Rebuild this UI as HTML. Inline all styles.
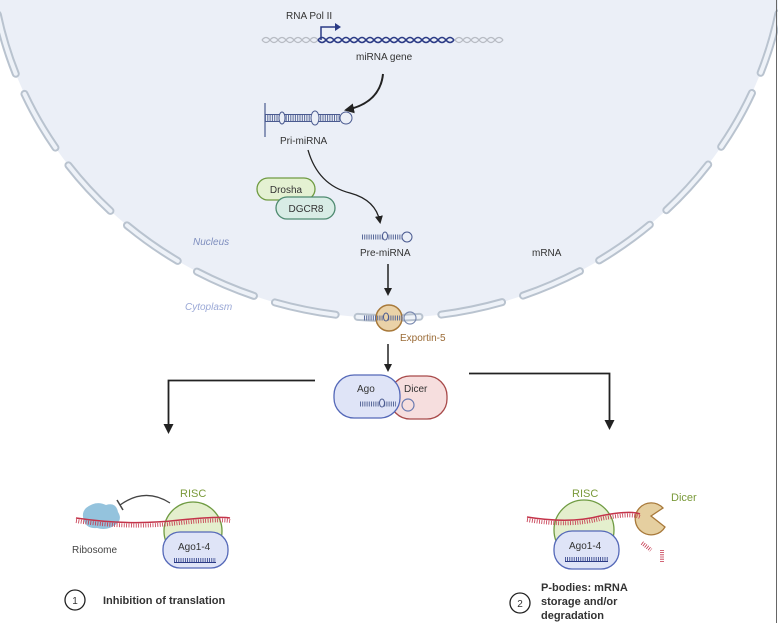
<!DOCTYPE html>
<html><head><meta charset="utf-8"><style>
html,body{margin:0;padding:0;background:#fff;}
svg{display:block;font-family:"Liberation Sans",sans-serif;}
</style></head><body>
<svg width="778" height="623" viewBox="0 0 778 623" xmlns="http://www.w3.org/2000/svg">
<defs>
<marker id="ah" markerWidth="8" markerHeight="8" refX="6" refY="4" orient="auto" markerUnits="userSpaceOnUse"><path d="M0,0 L8,4 L0,8 Z" fill="#222"/></marker>
<marker id="ahb" markerWidth="10" markerHeight="10" refX="8" refY="5" orient="auto" markerUnits="userSpaceOnUse"><path d="M0,0 L10,5 L0,10 Z" fill="#222"/></marker>
</defs>
<rect width="778" height="623" fill="#fff"/>
<!-- nucleus -->
<ellipse cx="388" cy="-60" rx="398" ry="378" fill="#ebeff7"/>
<ellipse cx="388" cy="-60" rx="398" ry="378" fill="none" stroke="#b9c3cf" stroke-width="8" stroke-linecap="round" stroke-dasharray="62 22" stroke-dashoffset="10"/>
<ellipse cx="388" cy="-60" rx="398" ry="378" fill="none" stroke="#eef2f8" stroke-width="4" stroke-linecap="round" stroke-dasharray="62 22" stroke-dashoffset="10"/>
<line x1="776.5" y1="0" x2="776.5" y2="623" stroke="#666" stroke-width="1"/>
<text x="193" y="245" font-size="10" font-style="italic" fill="#7f8fbf">Nucleus</text>
<text x="185" y="310" font-size="10" font-style="italic" fill="#9aa8d6">Cytoplasm</text>
<text x="532" y="256" font-size="10" fill="#333">mRNA</text>

<!-- DNA -->
<g fill="none" stroke-width="1.3">
<path d="M262 40 q4 -5 8 0 t8 0 t8 0 t8 0 t8 0 t8 0 t8 0 t8 0" stroke="#b8bcc4"/>
<path d="M262 40 q4 5 8 0 t8 0 t8 0 t8 0 t8 0 t8 0 t8 0 t8 0" stroke="#b8bcc4"/>
<path d="M455 40 q4 -5 8 0 t8 0 t8 0 t8 0 t8 0 t8 0" stroke="#b8bcc4"/>
<path d="M455 40 q4 5 8 0 t8 0 t8 0 t8 0 t8 0 t8 0" stroke="#b8bcc4"/>
<path d="M318 40 q4 -5 8 0 t8 0 t8 0 t8 0 t8 0 t8 0 t8 0 t8 0 t8 0 t8 0 t8 0 t8 0 t8 0 t8 0 t8 0 t8 0 t8 0" stroke="#2a3a85" stroke-width="1.6"/>
<path d="M318 40 q4 5 8 0 t8 0 t8 0 t8 0 t8 0 t8 0 t8 0 t8 0 t8 0 t8 0 t8 0 t8 0 t8 0 t8 0 t8 0 t8 0 t8 0" stroke="#2a3a85" stroke-width="1.6"/>
</g>
<path d="M321 40 V27 H336" fill="none" stroke="#2a3a85" stroke-width="1.5"/>
<path d="M335 23 L341 27 L335 31 Z" fill="#2a3a85"/>
<text x="286" y="19" font-size="10" fill="#333">RNA Pol II</text>
<text x="356" y="60" font-size="10" fill="#333">miRNA gene</text>
<path d="M383 74 Q380 103 346 110" fill="none" stroke="#222" stroke-width="2" marker-end="url(#ahb)"/>

<!-- Pri-miRNA -->
<line x1="265" y1="103" x2="265" y2="137" stroke="#4a5a90" stroke-width="1.2"/>
<line x1="265" y1="118" x2="340" y2="118" stroke="#5a6a9a" stroke-width="7" stroke-dasharray="1 1.3"/>
<line x1="265" y1="114.5" x2="340" y2="114.5" stroke="#4a5a90" stroke-width="1"/>
<line x1="265" y1="121.5" x2="340" y2="121.5" stroke="#4a5a90" stroke-width="1"/>
<ellipse cx="282" cy="118" rx="3" ry="6" fill="#ebeff7" stroke="#4a5a90"/>
<ellipse cx="315" cy="118" rx="4" ry="7" fill="#ebeff7" stroke="#4a5a90"/>
<circle cx="346" cy="118" r="6" fill="#ebeff7" stroke="#4a5a90"/>
<text x="280" y="144" font-size="10" fill="#333">Pri-miRNA</text>
<path d="M308 150 Q318 185 350 193 Q376 200 380 222" fill="none" stroke="#222" stroke-width="1.3" marker-end="url(#ah)"/>

<rect x="257" y="178" width="58" height="22" rx="11" fill="#e4f1d2" stroke="#6f9b42" stroke-width="1.3"/>
<text x="286" y="193" font-size="10" text-anchor="middle" fill="#333">Drosha</text>
<rect x="276" y="197" width="59" height="22" rx="11" fill="#d8ece5" stroke="#4e8a70" stroke-width="1.3"/>
<text x="306" y="212" font-size="10" text-anchor="middle" fill="#333">DGCR8</text>

<!-- Pre-miRNA -->
<g>
<line x1="362" y1="237" x2="402" y2="237" stroke="#5a6a9a" stroke-width="5" stroke-dasharray="1 1.2"/>
<ellipse cx="385" cy="236" rx="2.5" ry="4" fill="#ebeff7" stroke="#4a5a90"/>
<circle cx="407" cy="237" r="5" fill="#ebeff7" stroke="#4a5a90"/>
</g>
<text x="360" y="256" font-size="10" fill="#333">Pre-miRNA</text>
<line x1="388" y1="264" x2="388" y2="294" stroke="#222" stroke-width="1.5" marker-end="url(#ah)"/>

<!-- Exportin -->
<circle cx="389" cy="318" r="13" fill="#ead2a8" stroke="#a8793a" stroke-width="1.5"/>
<line x1="364" y1="318" x2="404" y2="318" stroke="#5a6a9a" stroke-width="5" stroke-dasharray="1 1.2"/>
<ellipse cx="386" cy="317" rx="2.5" ry="4" fill="#ead2a8" stroke="#4a5a90"/>
<circle cx="410" cy="318" r="6" fill="none" stroke="#7a8ab0" stroke-width="1.2"/>
<text x="400" y="341" font-size="10" fill="#9a6a35">Exportin-5</text>
<line x1="388" y1="344" x2="388" y2="370" stroke="#222" stroke-width="1.5" marker-end="url(#ah)"/>

<!-- Ago / Dicer -->
<rect x="390" y="376" width="57" height="43" rx="20" fill="#f6dede" stroke="#a84a4a" stroke-width="1.3"/>
<rect x="334" y="375" width="66" height="43" rx="20" fill="#dfe4f7" stroke="#5468b8" stroke-width="1.3"/>
<text x="357" y="392" font-size="10" fill="#333">Ago</text>
<text x="404" y="392" font-size="10" fill="#333">Dicer</text>
<line x1="360" y1="404" x2="396" y2="404" stroke="#5a6a9a" stroke-width="5" stroke-dasharray="1 1.2"/>
<ellipse cx="382" cy="403" rx="2.5" ry="4" fill="#dfe4f7" stroke="#4a5a90"/>
<circle cx="408" cy="405" r="6" fill="none" stroke="#6a7ab0" stroke-width="1.2"/>

<path d="M315 380.5 H168.5 V432" fill="none" stroke="#222" stroke-width="1.8" marker-end="url(#ahb)"/>
<path d="M469 373.5 H609.5 V428" fill="none" stroke="#222" stroke-width="1.8" marker-end="url(#ahb)"/>

<!-- Left bottom -->
<path d="M86 508 q10 -8 20 -3 q10 -3 12 7 q5 8 -3 13 q-8 6 -18 3 q-10 1 -13 -7 q-3 -8 2 -13Z" fill="#94c3dd"/>
<circle cx="193" cy="531" r="29" fill="#e4efcd" stroke="#6f9b42" stroke-width="1.3"/>
<path d="M76 518 Q130 526 180 520 Q220 516 230 518" fill="none" stroke="#c4344a" stroke-width="1.5"/>
<path d="M76 521 Q130 529 180 523 Q220 519 230 521" fill="none" stroke="#c4344a" stroke-width="4" stroke-dasharray="0.8 1.6"/>
<rect x="163" y="532" width="65" height="36" rx="17" fill="#dfe4f7" stroke="#5468b8" stroke-width="1.3"/>
<text x="178" y="550" font-size="10" fill="#333">Ago1-4</text>
<line x1="174" y1="560" x2="216" y2="560" stroke="#2a3a85" stroke-width="4" stroke-dasharray="0.8 1.4"/>
<line x1="174" y1="562.5" x2="216" y2="562.5" stroke="#2a3a85" stroke-width="1"/>
<text x="180" y="497" font-size="11" fill="#7a9a3a">RISC</text>
<text x="72" y="553" font-size="10" fill="#444">Ribosome</text>
<path d="M170 503 Q145 487 120 505" fill="none" stroke="#444" stroke-width="1.3"/>
<line x1="117" y1="500" x2="123" y2="510" stroke="#444" stroke-width="1.5"/>
<circle cx="75" cy="600" r="10" fill="#fff" stroke="#222" stroke-width="1.3"/>
<text x="75" y="604" font-size="10" text-anchor="middle" fill="#333">1</text>
<text x="103" y="604" font-size="11" font-weight="bold" fill="#333">Inhibition of translation</text>

<!-- Right bottom -->
<circle cx="584" cy="530" r="30" fill="#e4efcd" stroke="#6f9b42" stroke-width="1.3"/>
<path d="M663 508 A16 16 0 1 0 665 527 L651 516 Z" fill="#e5cfa0" stroke="#a8793a" stroke-width="1.3"/>
<path d="M527 517 Q570 524 600 516 Q630 510 640 514" fill="none" stroke="#c4344a" stroke-width="1.5"/>
<path d="M527 520 Q570 527 600 519 Q630 513 640 517" fill="none" stroke="#c4344a" stroke-width="4" stroke-dasharray="0.8 1.6"/>
<rect x="554" y="531" width="65" height="38" rx="18" fill="#dfe4f7" stroke="#5468b8" stroke-width="1.3"/>
<text x="569" y="549" font-size="10" fill="#333">Ago1-4</text>
<line x1="565" y1="559" x2="608" y2="559" stroke="#2a3a85" stroke-width="4" stroke-dasharray="0.8 1.4"/>
<line x1="565" y1="561.5" x2="608" y2="561.5" stroke="#2a3a85" stroke-width="1"/>
<text x="572" y="497" font-size="11" fill="#7a9a3a">RISC</text>
<text x="671" y="501" font-size="11" fill="#7a9a3a">Dicer</text>
<path d="M642 543 L651 550" stroke="#c4344a" stroke-width="4" stroke-dasharray="0.8 1.4"/>
<path d="M662 550 V562" stroke="#c4344a" stroke-width="4" stroke-dasharray="0.8 1.4"/>
<circle cx="520" cy="603" r="10" fill="#fff" stroke="#222" stroke-width="1.3"/>
<text x="520" y="607" font-size="10" text-anchor="middle" fill="#333">2</text>
<text x="541" y="591" font-size="11" font-weight="bold" fill="#333">P-bodies: mRNA</text>
<text x="541" y="605" font-size="11" font-weight="bold" fill="#333">storage and/or</text>
<text x="541" y="619" font-size="11" font-weight="bold" fill="#333">degradation</text>
</svg>
</body></html>
